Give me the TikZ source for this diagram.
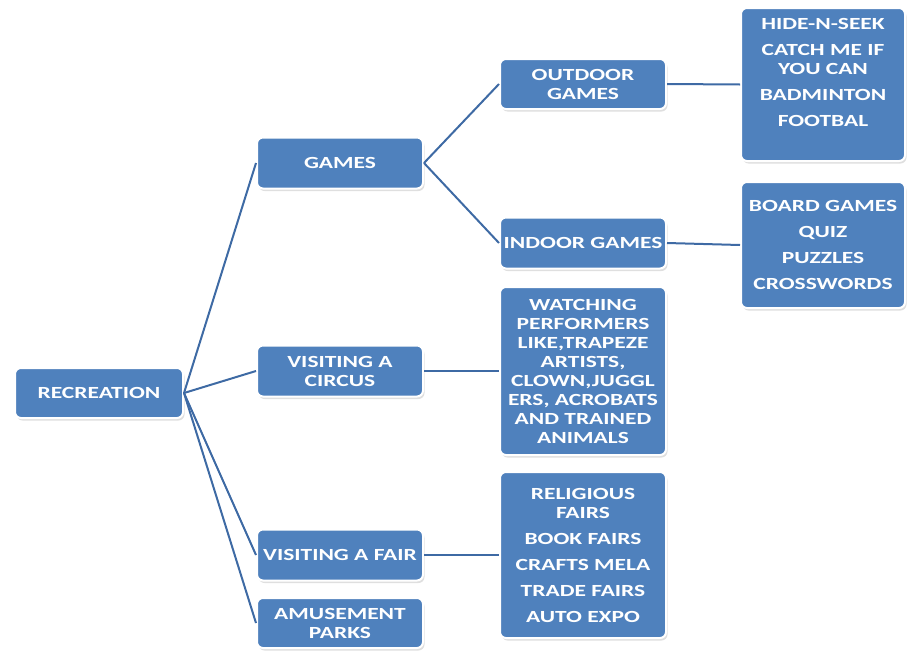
\documentclass[tikz,border=0pt]{standalone}
\usepackage{fontspec}
\newfontfamily\boxfont{Carlito}[FakeStretch=1.38]
\usetikzlibrary{shadows}
\definecolor{boxblue}{RGB}{79,129,189}
\definecolor{linkblue}{RGB}{62,106,164}
\tikzset{
  box/.style={draw=white, line width=2pt, fill=boxblue, rounded corners=6pt,
    text=white, align=center, inner sep=3pt,
    font={\boxfont\bfseries\fontsize{17}{19}\selectfont},
    drop shadow={shadow xshift=1.5pt, shadow yshift=-2.5pt, opacity=.25}},
  link/.style={draw=linkblue, line width=2pt}
}
\begin{document}
\begin{tikzpicture}[x=1pt,y=-1pt]
\useasboundingbox (0,0) rectangle (907,656) ;
\node [box, minimum width=168, minimum height=50] (rec) at (99,393) {RECREATION} ;
\node [box, minimum width=166, minimum height=51] (games) at (340,163) {GAMES} ;
\node [box, minimum width=166, minimum height=51] (circus) at (340,371) {VISITING A\\CIRCUS} ;
\node [box, minimum width=166, minimum height=51] (fair) at (340,555) {VISITING A FAIR} ;
\node [box, minimum width=166, minimum height=50] (parks) at (340,623) {AMUSEMENT\\PARKS} ;
\node [box, minimum width=166, minimum height=50] (outdoor) at (583,84) {OUTDOOR\\GAMES} ;
\node [box, minimum width=166, minimum height=51] (indoor) at (583,243) {INDOOR GAMES} ;
\node [box, minimum width=166, minimum height=168] (circusd) at (583,371)
  {WATCHING\\PERFORMERS\\LIKE,TRAPEZE\\ARTISTS,\\CLOWN,JUGGL\\ERS, ACROBATS\\AND TRAINED\\ANIMALS} ;
\node [box, minimum width=166, minimum height=166] (faird) at (583,555)
  {RELIGIOUS\\FAIRS\\[7pt]BOOK FAIRS\\[7pt]CRAFTS MELA\\[7pt]TRADE FAIRS\\[7pt]AUTO EXPO} ;
\node [box, minimum width=164, minimum height=153] (outd) at (823,84.5)
  {\parbox[c][143pt][t]{158pt}{\centering\vspace*{5pt}HIDE-N-SEEK\\[7pt]CATCH ME IF\\YOU CAN\\[7pt]BADMINTON\\[7pt]FOOTBAL}} ;
\node [box, minimum width=164, minimum height=126] (indd) at (823,245)
  {BOARD GAMES\\[7pt]QUIZ\\[7pt]PUZZLES\\[7pt]CROSSWORDS} ;
\draw [link] (rec.east) -- (games.west) ;
\draw [link] (rec.east) -- (circus.west) ;
\draw [link] (rec.east) -- (fair.west) ;
\draw [link] (rec.east) -- (parks.west) ;
\draw [link] (games.east) -- (outdoor.west) ;
\draw [link] (games.east) -- (indoor.west) ;
\draw [link] (circus.east) -- (circusd.west) ;
\draw [link] (fair.east) -- (faird.west) ;
\draw [link] (outdoor.east) -- (outd.west) ;
\draw [link] (indoor.east) -- (indd.west) ;
\end{tikzpicture}
\end{document}
